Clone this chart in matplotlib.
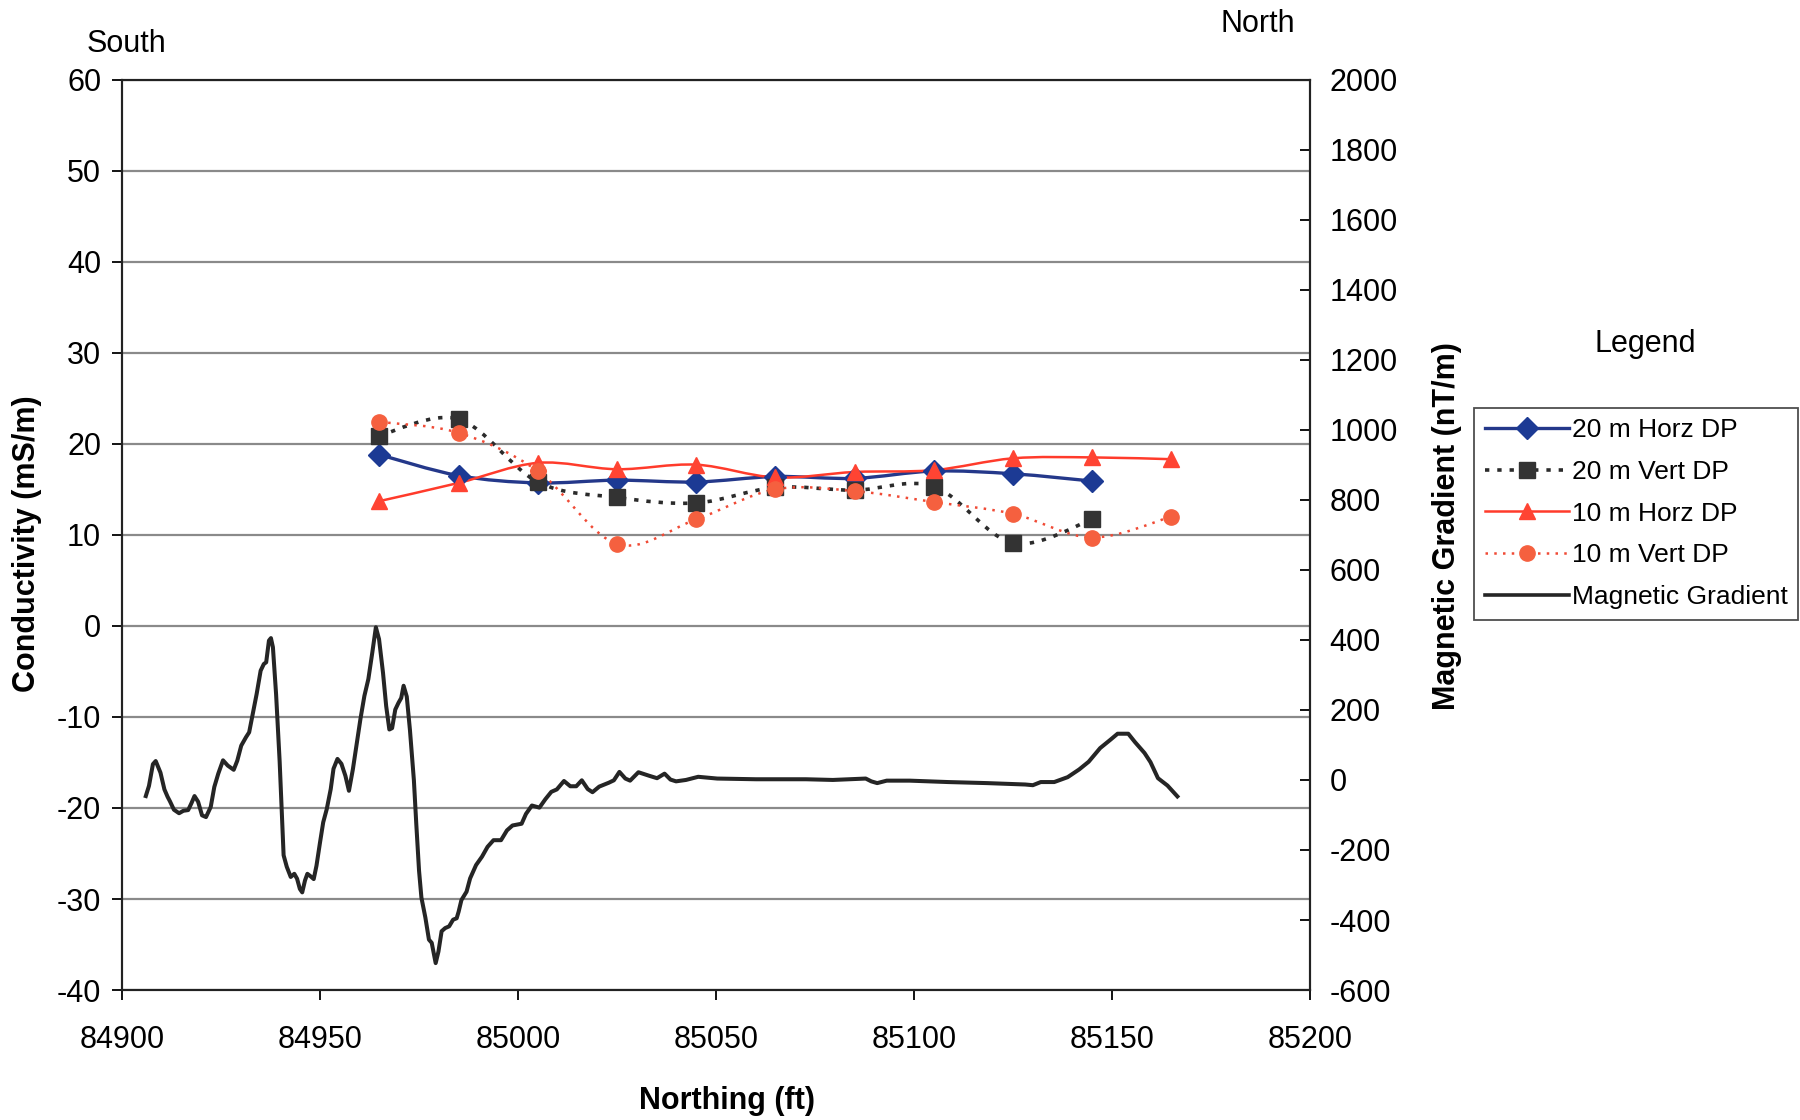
import matplotlib.pyplot as plt
from matplotlib.path import Path
from matplotlib.patches import PathPatch
from matplotlib.lines import Line2D
import numpy as np

plt.rcParams['font.family'] = ['Liberation Sans', 'DejaVu Sans']
plt.rcParams['axes.unicode_minus'] = False

# resistivity survey stations (ft) and conductivity (mS/m)
stations = [84965, 84985, 85005, 85025, 85045, 85065, 85085, 85105, 85125, 85145, 85165]
horz20 = [18.8, 16.5, 15.7, 16.0, 15.8, 16.4, 16.2, 17.0, 16.7, 15.9]
vert20 = [20.9, 22.7, 15.8, 14.1, 13.5, 15.2, 14.9, 15.3, 9.1, 11.7]
horz10 = [13.7, 15.7, 17.9, 17.2, 17.7, 16.3, 16.9, 17.1, 18.4, 18.5, 18.3]
vert10 = [22.4, 21.2, 17.0, 9.0, 11.7, 15.0, 14.8, 13.6, 12.3, 9.7, 12.0]

# magnetic gradient trace (ft, nT/m)
mag_x = [84906.0, 84906.8, 84907.8, 84908.5, 84909.7, 84910.7, 84911.5, 84912.1, 84913.1,
         84914.4, 84915.5, 84916.7, 84917.5, 84918.3, 84919.2, 84920.2, 84921.2, 84922.4,
         84923.3, 84924.3, 84925.5, 84926.7, 84928.2, 84929.1, 84930.1, 84931.3, 84932.1,
         84933.0, 84934.0, 84935.0, 84935.8, 84936.4, 84937.1, 84937.6, 84938.1, 84938.9,
         84939.8, 84940.3, 84940.8, 84941.6, 84942.6, 84943.5, 84944.2, 84944.9, 84945.5,
         84946.2, 84946.8, 84947.6, 84948.4, 84949.1, 84950.0, 84950.8, 84951.7, 84952.7,
         84953.4, 84954.4, 84955.4, 84956.4, 84957.3, 84958.3, 84959.3, 84960.2, 84961.2,
         84962.2, 84963.2, 84964.1, 84964.9, 84965.9, 84966.7, 84967.5, 84968.2, 84969.0,
         84969.8, 84970.5, 84971.1, 84971.9, 84972.7, 84973.7, 84974.3, 84975.0, 84975.6,
         84976.6, 84977.5, 84978.2, 84979.2, 84979.9, 84980.7, 84981.6, 84982.6, 84983.6,
         84984.5, 84985.0, 84985.7, 84987.0, 84987.9, 84989.4, 84990.9, 84992.3, 84993.8,
         84995.7, 84997.2, 84998.6, 85000.9, 85002.0, 85003.5, 85005.4, 85006.9, 85008.4,
         85009.8, 85011.6, 85013.2, 85014.7, 85016.1, 85017.6, 85018.8, 85020.5, 85022.9,
         85024.2, 85025.6, 85027.1, 85028.3, 85030.4, 85033.1, 85035.1, 85037.0, 85038.5,
         85039.9, 85042.4, 85045.5, 85050.3, 85060.1, 85072.7, 85079.5, 85087.8, 85089.2,
         85090.7, 85093.1, 85098.9, 85108.6, 85118.4, 85128.1, 85130.0, 85132.0, 85135.4,
         85138.8, 85141.7, 85144.1, 85147.0, 85149.5, 85151.4, 85154.1, 85155.8, 85158.2,
         85159.7, 85161.6, 85164.0, 85166.5]
mag_y = [-46, -17, 45, 54, 21, -27, -48, -61, -85,
         -95, -88, -86, -67, -46, -62, -101, -106, -77,
         -20, 18, 56, 41, 29, 55, 98, 122, 136,
         188, 246, 312, 331, 336, 398, 405, 379, 245,
         53, -81, -215, -248, -277, -268, -282, -311, -321,
         -287, -268, -275, -283, -245, -178, -121, -83, -26,
         32, 60, 46, 12, -31, 31, 107, 174, 240,
         288, 364, 436, 402, 306, 211, 144, 148, 201,
         220, 234, 269, 238, 143, -1, -125, -259, -336,
         -393, -456, -465, -523, -490, -432, -423, -418, -399,
         -395, -376, -343, -319, -281, -243, -219, -191, -172,
         -172, -144, -130, -125, -97, -73, -79, -55, -34,
         -27, -3, -18, -18, -1, -26, -35, -19, -8,
         -1, 23, 4, -2, 22, 12, 5, 18, 1,
         -4, 0, 9, 4, 2, 2, 0, 4, -4,
         -9, -2, -2, -6, -9, -13, -15, -6, -6,
         8, 30, 52, 91, 114, 132, 132, 108, 77,
         51, 5, -16, -47]

x_ticks = [84900, 84950, 85000, 85050, 85100, 85150, 85200]


def smooth_path(xs, ys):
    # Excel-style smoothed line through the points (cubic Bezier)
    pts = np.column_stack([xs, ys]).astype(float)
    n = len(pts)
    verts = [pts[0]]
    codes = [Path.MOVETO]
    for i in range(n - 1):
        p0 = pts[i - 1] if i > 0 else pts[i]
        p1 = pts[i]
        p2 = pts[i + 1]
        p3 = pts[i + 2] if i + 2 < n else pts[i + 1]
        verts += [p1 + (p2 - p0) / 6, p2 - (p3 - p1) / 6, p2]
        codes += [Path.CURVE4] * 3
    return Path(verts, codes)


fig = plt.figure(figsize=(18, 11.2), dpi=100)
ax = fig.add_axes([0.0678, 0.116, 0.660, 0.813])
ax2 = ax.twinx()

series = [
    ('20 m Horz DP', horz20, '#24388a', '#1c3a94', 'D', '-', 2.4),
    ('20 m Vert DP', vert20, '#2b2b2b', '#333333', 's', (0, (1.2, 2.2)), 2.6),
    ('10 m Horz DP', horz10, '#ff3b2b', '#ff4433', '^', '-', 1.8),
    ('10 m Vert DP', vert10, '#f04a35', '#f5603f', 'o', (0, (1.0, 2.5)), 1.8),
]
handles = []
for label, vals, lc, mc, mk, ls, lw in series:
    xs = stations[:len(vals)]
    ax.add_patch(PathPatch(smooth_path(xs, vals), fill=False, edgecolor=lc,
                           lw=lw, linestyle=ls, zorder=3))
    ax.plot(xs, vals, linestyle='none', marker=mk, color=mc, ms=11,
            markeredgecolor=mc, zorder=4)
    handles.append(Line2D([], [], color=lc, lw=lw, linestyle=ls, marker=mk,
                          ms=11, markerfacecolor=mc, markeredgecolor=mc))

ax2.plot(mag_x, mag_y, color='#252525', lw=2.9, zorder=3)
handles.append(Line2D([], [], color='#252525', lw=2.6))

ax.set_xlim(84900, 85200)
ax.set_ylim(-40, 60)
ax2.set_ylim(-600, 2000)
ax.set_xticks(x_ticks)
ax.set_yticks(np.arange(-40, 61, 10))
ax2.set_yticks(np.arange(-600, 2001, 200))
ax.grid(axis='y', color='#8a8a8a', lw=1.6)
ax.set_axisbelow(True)

ax.tick_params(axis='both', labelsize=22, length=7, width=1.3, direction='out', pad=8)
ax.tick_params(axis='x', pad=18)
ax2.tick_params(axis='y', labelsize=22, length=7, width=1.3, direction='in', pad=14)
for a in (ax, ax2):
    for s in a.spines.values():
        s.set_linewidth(1.5)
        s.set_color('#222222')

ax.set_xlabel('Northing (ft)', fontsize=22, fontweight='bold')
ax.xaxis.set_label_coords(0.509, -0.105)
ax.set_ylabel('Conductivity (mS/m)', fontsize=22, fontweight='bold')
ax.yaxis.set_label_coords(-0.067, 0.49)
ax2.set_ylabel('Magnetic Gradient (nT/m)', fontsize=22, fontweight='bold')
ax2.yaxis.set_label_coords(1.103, 0.51)

fig.text(0.070, 0.961, 'South', fontsize=22, ha='center', va='center')
fig.text(0.699, 0.979, 'North', fontsize=22, ha='center', va='center')
fig.text(0.914, 0.693, 'Legend', fontsize=22, ha='center', va='center')

leg = fig.legend(handles, [s[0] for s in series] + ['Magnetic Gradient'],
                 loc='upper left', bbox_to_anchor=(0.819, 0.636), fontsize=19,
                 frameon=True, fancybox=False, edgecolor='#222222',
                 handlelength=3.2, handletextpad=0.1, labelspacing=0.67,
                 borderpad=0.4, borderaxespad=0)
leg.get_frame().set_linewidth(1.3)

fig.savefig('out.png', dpi=100)
